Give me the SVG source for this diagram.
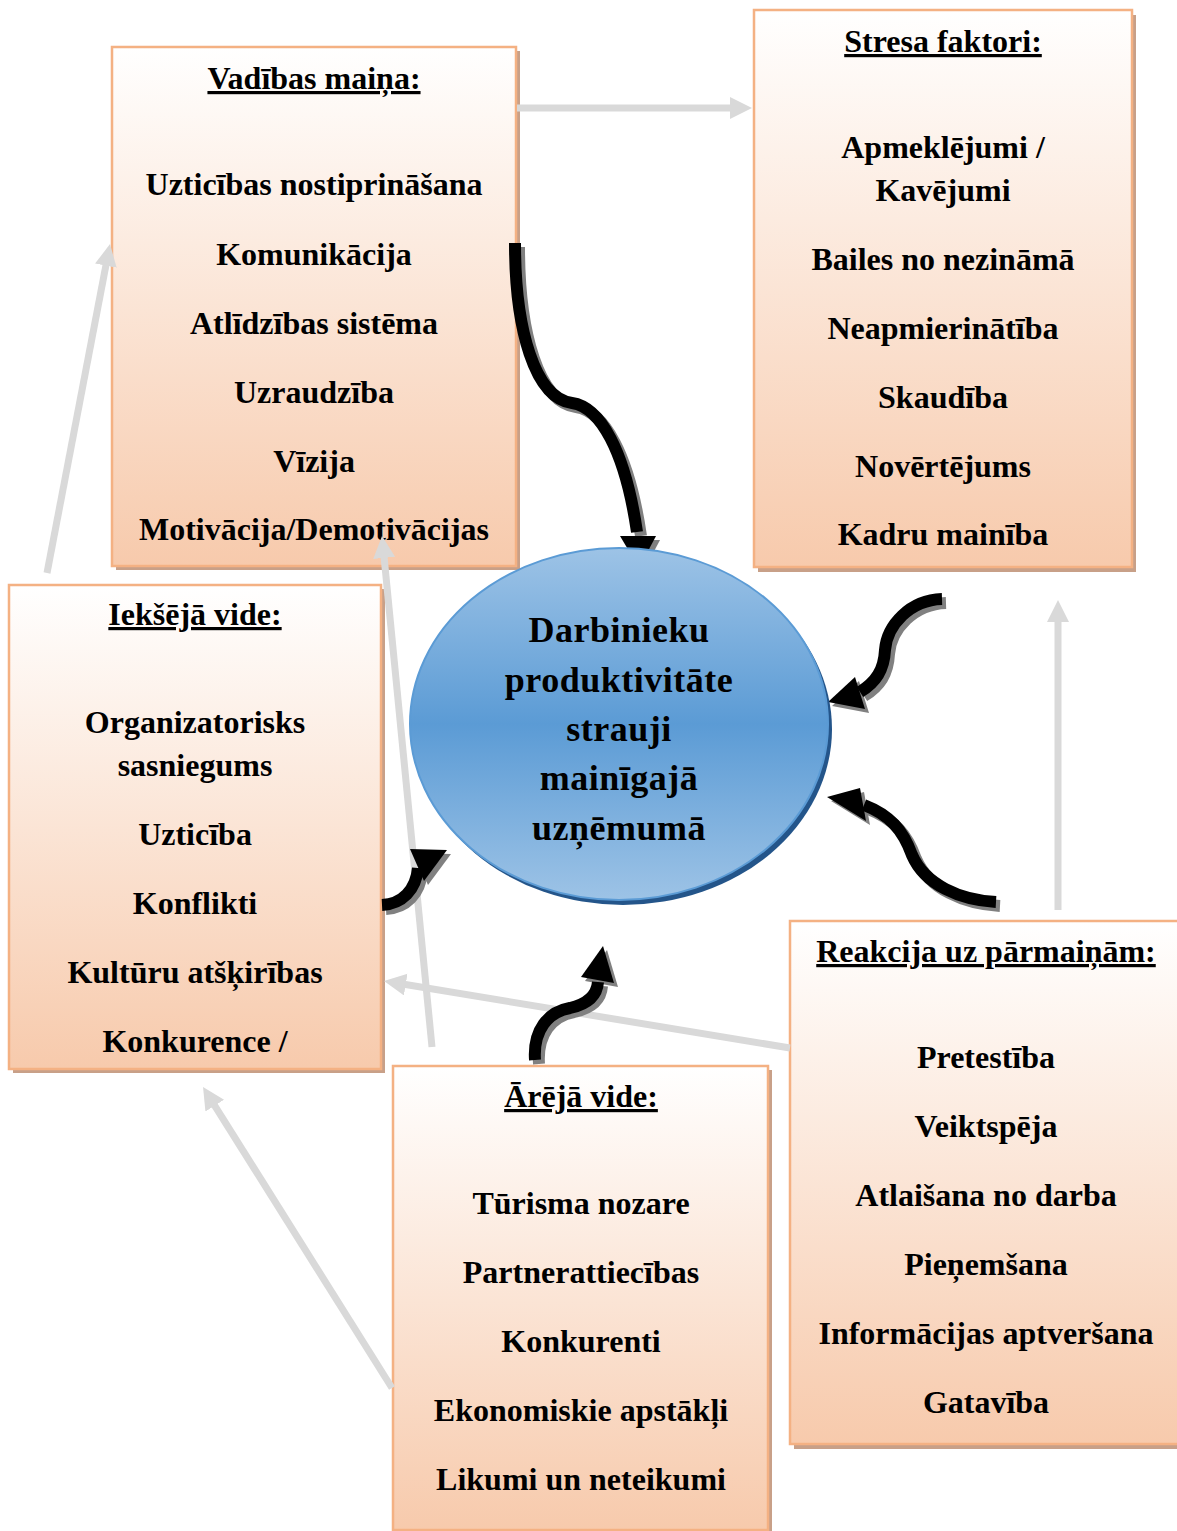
<svg xmlns="http://www.w3.org/2000/svg" xmlns:xlink="http://www.w3.org/1999/xlink" width="1177" height="1531" viewBox="0 0 1177 1531">
  <style>
    .box { fill: url(#peach); stroke: #F4B183; stroke-width: 2.5; }
    .shadow { fill: #C8A088; }
    .title { font-family: "Liberation Serif", "Times New Roman", serif; font-weight: bold; font-size: 32px; text-anchor: middle; text-decoration: underline; fill: #000; }
    .item { font-family: "Liberation Serif", "Times New Roman", serif; font-weight: bold; font-size: 32px; text-anchor: middle; fill: #000; }
    .core { font-family: "Liberation Serif", "Times New Roman", serif; font-weight: bold; font-size: 36px; letter-spacing: 0.5px; text-anchor: middle; fill: #000; }
    .link { stroke: #D9D9D9; stroke-width: 7; fill: none; marker-end: url(#grayHead); }
    .flow path { fill: none; stroke: currentColor; stroke-width: 12; }
    .flow polygon { fill: currentColor; }
  </style>
  <defs>
    <linearGradient id="peach" x1="0" y1="0" x2="0" y2="1">
      <stop offset="0" stop-color="#FFFFFF"/>
      <stop offset="1" stop-color="#F7CAAC"/>
    </linearGradient>
    <linearGradient id="blue" x1="0" y1="0" x2="0" y2="1">
      <stop offset="0" stop-color="#9DC3E6"/>
      <stop offset="0.5" stop-color="#5B9BD5"/>
      <stop offset="1" stop-color="#9DC3E6"/>
    </linearGradient>
    <marker id="grayHead" markerUnits="userSpaceOnUse" markerWidth="24" markerHeight="24" refX="14" refY="11" orient="auto">
      <path d="M0,0 L22,11 L0,22 z" fill="#D9D9D9"/>
    </marker>
    <!-- thick curved arrows, drawn twice: grey offset shadow, then black -->
    <g id="curve1" class="flow">
      <path d="M 515 243 C 515 330, 535 398, 572 403 C 600 407, 625 450, 637 532"/>
      <polygon points="620,536 656,536 639,568"/>
    </g>
    <g id="curve2" class="flow">
      <path d="M 942 599 C 910 600, 887 625, 885 650 C 884 670, 876 682, 860 692"/>
      <polygon points="855,677 828,702 865,709"/>
    </g>
    <g id="curve3" class="flow">
      <path d="M 996 902 C 960 900, 925 885, 912 855 C 903 830, 890 815, 864 805"/>
      <polygon points="860,788 827,797 866,821"/>
    </g>
    <g id="curve4" class="flow">
      <path d="M 382 905 C 402 904, 416 890, 418 868"/>
      <polygon points="410,849 447,850 424,881"/>
    </g>
    <g id="curve5" class="flow">
      <path d="M 535 1060 C 533 1030, 548 1012, 570 1008 C 588 1004, 597 995, 598 982"/>
      <polygon points="581,977 603,946 614,983"/>
    </g>
  </defs>

  <rect width="1177" height="1531" fill="#FFFFFF"/>

  <!-- Vadības maiņa -->
  <g id="vadibas-maina">
    <rect class="shadow" x="116" y="51" width="404" height="519"/>
    <rect class="box" x="112" y="47" width="404" height="519"/>
    <text class="title" x="314" y="89">Vadības maiņa:</text>
    <text class="item" x="314" y="195">Uzticības nostiprināšana</text>
    <text class="item" x="314" y="265">Komunikācija</text>
    <text class="item" x="314" y="334">Atlīdzības sistēma</text>
    <text class="item" x="314" y="403">Uzraudzība</text>
    <text class="item" x="314" y="472">Vīzija</text>
    <text class="item" x="314" y="540">Motivācija/Demotivācijas</text>
  </g>

  <!-- Stresa faktori -->
  <g id="stresa-faktori">
    <rect class="shadow" x="758" y="15" width="378" height="557"/>
    <rect class="box" x="754" y="10" width="378" height="557"/>
    <text class="title" x="943" y="52">Stresa faktori:</text>
    <text class="item" x="943" y="158">Apmeklējumi /</text>
    <text class="item" x="943" y="201">Kavējumi</text>
    <text class="item" x="943" y="270">Bailes no nezināmā</text>
    <text class="item" x="943" y="339">Neapmierinātība</text>
    <text class="item" x="943" y="408">Skaudība</text>
    <text class="item" x="943" y="477">Novērtējums</text>
    <text class="item" x="943" y="545">Kadru mainība</text>
  </g>

  <!-- Iekšējā vide -->
  <g id="iekseja-vide">
    <rect class="shadow" x="13" y="589" width="372" height="484"/>
    <rect class="box" x="9" y="585" width="372" height="484"/>
    <text class="title" x="195" y="625">Iekšējā vide:</text>
    <text class="item" x="195" y="733">Organizatorisks</text>
    <text class="item" x="195" y="776">sasniegums</text>
    <text class="item" x="195" y="845">Uzticība</text>
    <text class="item" x="195" y="914">Konflikti</text>
    <text class="item" x="195" y="983">Kultūru atšķirības</text>
    <text class="item" x="195" y="1052">Konkurence /</text>
  </g>

  <!-- Ārējā vide -->
  <g id="areja-vide">
    <rect class="shadow" x="397" y="1070" width="375" height="464"/>
    <rect class="box" x="393" y="1066" width="375" height="464"/>
    <text class="title" x="581" y="1107">Ārējā vide:</text>
    <text class="item" x="581" y="1214">Tūrisma nozare</text>
    <text class="item" x="581" y="1283">Partnerattiecības</text>
    <text class="item" x="581" y="1352">Konkurenti</text>
    <text class="item" x="581" y="1421">Ekonomiskie apstākļi</text>
    <text class="item" x="581" y="1490">Likumi un neteikumi</text>
  </g>

  <!-- Reakcija uz pārmaiņām -->
  <g id="reakcija">
    <rect class="shadow" x="794" y="926" width="392" height="523"/>
    <rect class="box" x="790" y="921" width="392" height="523"/>
    <text class="title" x="986" y="962">Reakcija uz pārmaiņām:</text>
    <text class="item" x="986" y="1068">Pretestība</text>
    <text class="item" x="986" y="1137">Veiktspēja</text>
    <text class="item" x="986" y="1206">Atlaišana no darba</text>
    <text class="item" x="986" y="1275">Pieņemšana</text>
    <text class="item" x="986" y="1344">Informācijas aptveršana</text>
    <text class="item" x="986" y="1413">Gatavība</text>
  </g>

  <!-- connectors -->
  <g id="connectors">
    <line class="link" x1="517" y1="108" x2="744" y2="108"/>
    <line class="link" x1="47" y1="573" x2="108.5" y2="251.9"/>
    <line class="link" x1="432" y1="1047" x2="382.8" y2="544"/>
    <line class="link" x1="790" y1="1048" x2="391.9" y2="982.3"/>
    <line class="link" x1="392" y1="1388" x2="207.3" y2="1093.8"/>
    <line class="link" x1="1058" y1="910" x2="1058" y2="608"/>
    <use xlink:href="#curve1" transform="translate(4,4)" color="#808080"/>
    <use xlink:href="#curve1" color="#000000"/>
    <use xlink:href="#curve2" transform="translate(4,4)" color="#808080"/>
    <use xlink:href="#curve2" color="#000000"/>
    <use xlink:href="#curve3" transform="translate(4,4)" color="#808080"/>
    <use xlink:href="#curve3" color="#000000"/>
    <use xlink:href="#curve4" transform="translate(4,4)" color="#808080"/>
    <use xlink:href="#curve4" color="#000000"/>
    <use xlink:href="#curve5" transform="translate(4,4)" color="#808080"/>
    <use xlink:href="#curve5" color="#000000"/>
  </g>

  <!-- central node -->
  <g id="produktivitate">
    <ellipse cx="623" cy="729" rx="209" ry="176" fill="#24558A"/>
    <ellipse cx="619" cy="724" rx="209" ry="176" fill="url(#blue)" stroke="#5B9BD5" stroke-width="2"/>
    <text class="core" x="619" y="642">Darbinieku</text>
    <text class="core" x="619" y="692">produktivitāte</text>
    <text class="core" x="619" y="741">strauji</text>
    <text class="core" x="619" y="790">mainīgajā</text>
    <text class="core" x="619" y="840">uzņēmumā</text>
  </g>
</svg>
